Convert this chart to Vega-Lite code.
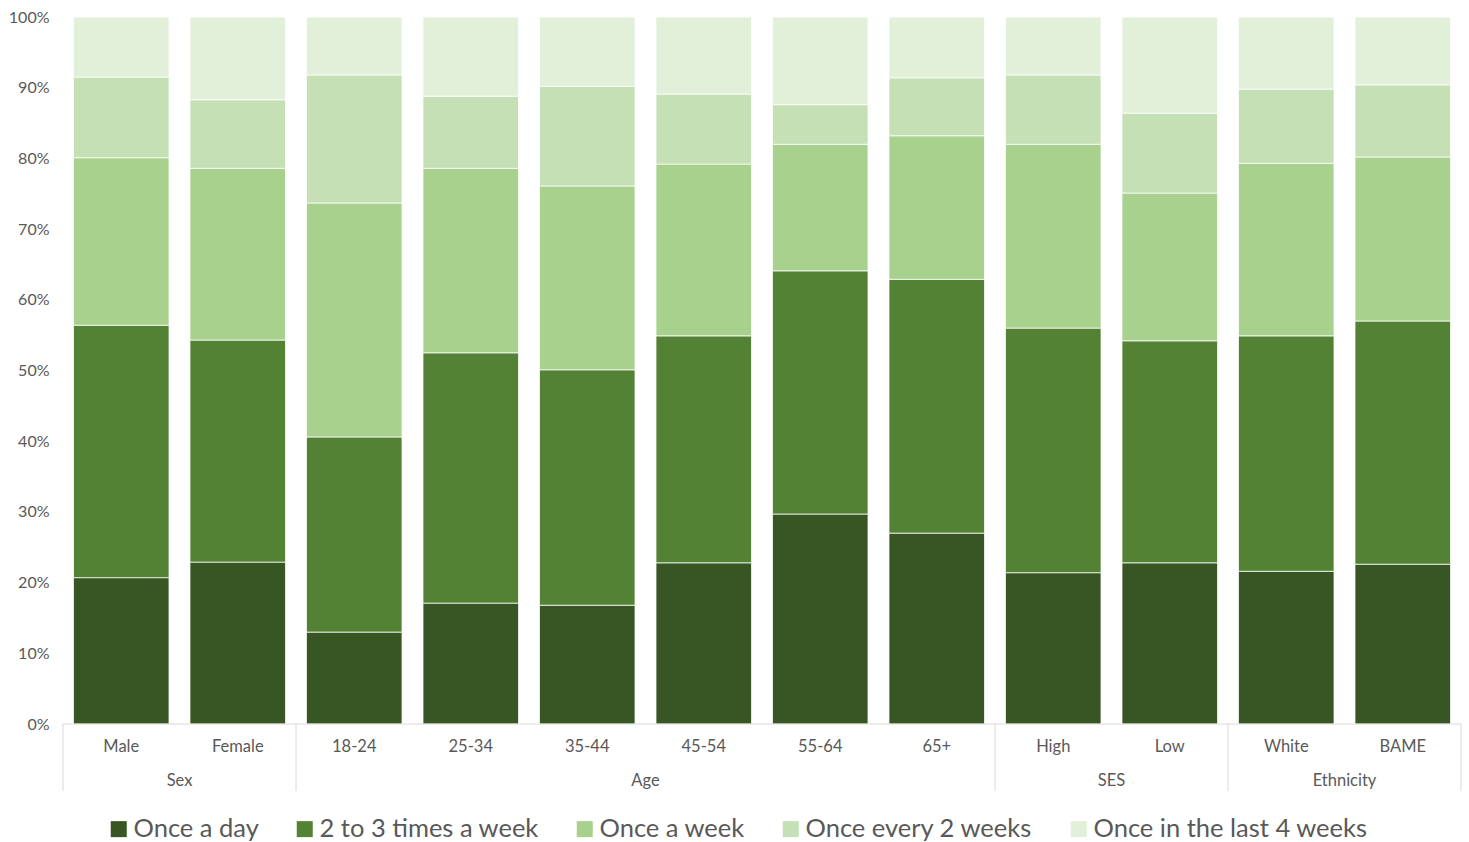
{
  "$schema": "https://vega.github.io/schema/vega-lite/v6.json",
  "padding": {"left": 8, "top": 9, "right": 7, "bottom": 0},
  "background": "white",
  "bounds": "flush",
  "config": {
    "font": "Lato",
    "view": {"stroke": null}
  },
  "datasets": {
    "bars": [
      {"group": "Sex", "category": "Male", "frequency": "Once a day", "percent": 20.7},
      {"group": "Sex", "category": "Male", "frequency": "2 to 3 times a week", "percent": 35.7},
      {"group": "Sex", "category": "Male", "frequency": "Once a week", "percent": 23.7},
      {"group": "Sex", "category": "Male", "frequency": "Once every 2 weeks", "percent": 11.4},
      {"group": "Sex", "category": "Male", "frequency": "Once in the last 4 weeks", "percent": 8.5},
      {"group": "Sex", "category": "Female", "frequency": "Once a day", "percent": 22.9},
      {"group": "Sex", "category": "Female", "frequency": "2 to 3 times a week", "percent": 31.4},
      {"group": "Sex", "category": "Female", "frequency": "Once a week", "percent": 24.3},
      {"group": "Sex", "category": "Female", "frequency": "Once every 2 weeks", "percent": 9.7},
      {"group": "Sex", "category": "Female", "frequency": "Once in the last 4 weeks", "percent": 11.7},
      {"group": "Age", "category": "18-24", "frequency": "Once a day", "percent": 13.0},
      {"group": "Age", "category": "18-24", "frequency": "2 to 3 times a week", "percent": 27.6},
      {"group": "Age", "category": "18-24", "frequency": "Once a week", "percent": 33.1},
      {"group": "Age", "category": "18-24", "frequency": "Once every 2 weeks", "percent": 18.1},
      {"group": "Age", "category": "18-24", "frequency": "Once in the last 4 weeks", "percent": 8.2},
      {"group": "Age", "category": "25-34", "frequency": "Once a day", "percent": 17.1},
      {"group": "Age", "category": "25-34", "frequency": "2 to 3 times a week", "percent": 35.4},
      {"group": "Age", "category": "25-34", "frequency": "Once a week", "percent": 26.1},
      {"group": "Age", "category": "25-34", "frequency": "Once every 2 weeks", "percent": 10.2},
      {"group": "Age", "category": "25-34", "frequency": "Once in the last 4 weeks", "percent": 11.2},
      {"group": "Age", "category": "35-44", "frequency": "Once a day", "percent": 16.8},
      {"group": "Age", "category": "35-44", "frequency": "2 to 3 times a week", "percent": 33.3},
      {"group": "Age", "category": "35-44", "frequency": "Once a week", "percent": 26.0},
      {"group": "Age", "category": "35-44", "frequency": "Once every 2 weeks", "percent": 14.1},
      {"group": "Age", "category": "35-44", "frequency": "Once in the last 4 weeks", "percent": 9.8},
      {"group": "Age", "category": "45-54", "frequency": "Once a day", "percent": 22.8},
      {"group": "Age", "category": "45-54", "frequency": "2 to 3 times a week", "percent": 32.1},
      {"group": "Age", "category": "45-54", "frequency": "Once a week", "percent": 24.3},
      {"group": "Age", "category": "45-54", "frequency": "Once every 2 weeks", "percent": 9.9},
      {"group": "Age", "category": "45-54", "frequency": "Once in the last 4 weeks", "percent": 10.9},
      {"group": "Age", "category": "55-64", "frequency": "Once a day", "percent": 29.7},
      {"group": "Age", "category": "55-64", "frequency": "2 to 3 times a week", "percent": 34.4},
      {"group": "Age", "category": "55-64", "frequency": "Once a week", "percent": 17.9},
      {"group": "Age", "category": "55-64", "frequency": "Once every 2 weeks", "percent": 5.6},
      {"group": "Age", "category": "55-64", "frequency": "Once in the last 4 weeks", "percent": 12.4},
      {"group": "Age", "category": "65+", "frequency": "Once a day", "percent": 27.0},
      {"group": "Age", "category": "65+", "frequency": "2 to 3 times a week", "percent": 35.9},
      {"group": "Age", "category": "65+", "frequency": "Once a week", "percent": 20.3},
      {"group": "Age", "category": "65+", "frequency": "Once every 2 weeks", "percent": 8.2},
      {"group": "Age", "category": "65+", "frequency": "Once in the last 4 weeks", "percent": 8.6},
      {"group": "SES", "category": "High", "frequency": "Once a day", "percent": 21.4},
      {"group": "SES", "category": "High", "frequency": "2 to 3 times a week", "percent": 34.6},
      {"group": "SES", "category": "High", "frequency": "Once a week", "percent": 26.0},
      {"group": "SES", "category": "High", "frequency": "Once every 2 weeks", "percent": 9.8},
      {"group": "SES", "category": "High", "frequency": "Once in the last 4 weeks", "percent": 8.2},
      {"group": "SES", "category": "Low", "frequency": "Once a day", "percent": 22.8},
      {"group": "SES", "category": "Low", "frequency": "2 to 3 times a week", "percent": 31.4},
      {"group": "SES", "category": "Low", "frequency": "Once a week", "percent": 20.9},
      {"group": "SES", "category": "Low", "frequency": "Once every 2 weeks", "percent": 11.3},
      {"group": "SES", "category": "Low", "frequency": "Once in the last 4 weeks", "percent": 13.6},
      {"group": "Ethnicity", "category": "White", "frequency": "Once a day", "percent": 21.6},
      {"group": "Ethnicity", "category": "White", "frequency": "2 to 3 times a week", "percent": 33.3},
      {"group": "Ethnicity", "category": "White", "frequency": "Once a week", "percent": 24.4},
      {"group": "Ethnicity", "category": "White", "frequency": "Once every 2 weeks", "percent": 10.5},
      {"group": "Ethnicity", "category": "White", "frequency": "Once in the last 4 weeks", "percent": 10.2},
      {"group": "Ethnicity", "category": "BAME", "frequency": "Once a day", "percent": 22.6},
      {"group": "Ethnicity", "category": "BAME", "frequency": "2 to 3 times a week", "percent": 34.4},
      {"group": "Ethnicity", "category": "BAME", "frequency": "Once a week", "percent": 23.2},
      {"group": "Ethnicity", "category": "BAME", "frequency": "Once every 2 weeks", "percent": 10.2},
      {"group": "Ethnicity", "category": "BAME", "frequency": "Once in the last 4 weeks", "percent": 9.6}
    ],
    "frequencies": [
      {"frequency": "Once a day", "rank": 1},
      {"frequency": "2 to 3 times a week", "rank": 2},
      {"frequency": "Once a week", "rank": 3},
      {"frequency": "Once every 2 weeks", "rank": 4},
      {"frequency": "Once in the last 4 weeks", "rank": 5}
    ],
    "categoryLabels": [
      {"category": "Male", "level": "category", "text": "Male"},
      {"category": "Female", "level": "category", "text": "Female"},
      {"category": "18-24", "level": "category", "text": "18-24"},
      {"category": "25-34", "level": "category", "text": "25-34"},
      {"category": "35-44", "level": "category", "text": "35-44"},
      {"category": "45-54", "level": "category", "text": "45-54"},
      {"category": "55-64", "level": "category", "text": "55-64"},
      {"category": "65+", "level": "category", "text": "65+"},
      {"category": "High", "level": "category", "text": "High"},
      {"category": "Low", "level": "category", "text": "Low"},
      {"category": "White", "level": "category", "text": "White"},
      {"category": "BAME", "level": "category", "text": "BAME"}
    ],
    "groupLabels": [
      {"category": "Male", "level": "group", "text": "Sex"},
      {"category": "35-44", "level": "group", "text": "Age"},
      {"category": "High", "level": "group", "text": "SES"},
      {"category": "White", "level": "group", "text": "Ethnicity"}
    ],
    "groupEnds": [
      {"category": "Female"},
      {"category": "65+"},
      {"category": "Low"},
      {"category": "BAME"}
    ],
    "groupStart": [
      {"category": "Male"}
    ],
    "baseline": [
      {"share": 0}
    ]
  },
  "vconcat": [
    {
      "width": 1398,
      "height": 707,
      "layer": [
        {
          "data": {"name": "bars"},
          "transform": [
            {
              "lookup": "frequency",
              "from": {"data": {"name": "frequencies"}, "key": "frequency", "fields": ["rank"]}
            }
          ],
          "mark": {"type": "bar", "stroke": "white", "strokeWidth": 0.75},
          "encoding": {
            "x": {
              "field": "category",
              "type": "nominal",
              "scale": {
                "domain": ["Male", "Female", "18-24", "25-34", "35-44", "45-54", "55-64", "65+", "High", "Low", "White", "BAME"],
                "paddingInner": 0.18,
                "paddingOuter": 0.09
              },
              "axis": null
            },
            "y": {
              "field": "percent",
              "type": "quantitative",
              "stack": "normalize",
              "scale": {"domain": [0, 1]},
              "axis": {
                "title": null,
                "values": [0, 0.1, 0.2, 0.3, 0.4, 0.5, 0.6, 0.7, 0.8, 0.9, 1],
                "format": ".0%",
                "grid": false,
                "domain": false,
                "ticks": false,
                "labelFontSize": 16,
                "labelColor": "#595959",
                "labelPadding": 14
              }
            },
            "order": {"field": "rank", "type": "quantitative", "sort": "ascending"},
            "color": {
              "field": "frequency",
              "type": "nominal",
              "scale": {
                "domain": ["Once a day", "2 to 3 times a week", "Once a week", "Once every 2 weeks", "Once in the last 4 weeks"],
                "range": ["#375623", "#548235", "#A9D18E", "#C5E0B4", "#E2F0D9"]
              },
              "legend": {
                "title": null,
                "orient": "none",
                "direction": "horizontal",
                "legendX": 43,
                "legendY": 799,
                "symbolType": "square",
                "symbolSize": 256,
                "symbolStrokeWidth": 0,
                "symbolOpacity": 1,
                "labelFontSize": 25.5,
                "labelColor": "#595959",
                "labelOffset": 2,
                "columnPadding": 33,
                "labelLimit": 400
              }
            }
          }
        },
        {
          "data": {"name": "baseline"},
          "mark": {"type": "rule", "color": "#D9D9D9", "strokeWidth": 1},
          "encoding": {
            "y": {"field": "share", "type": "quantitative"}
          }
        }
      ]
    },
    {
      "width": 1398,
      "height": 67,
      "layer": [
        {
          "data": {"name": "groupEnds"},
          "mark": {"type": "rule", "color": "#D9D9D9", "strokeWidth": 1},
          "encoding": {
            "x": {"field": "category", "type": "nominal", "bandPosition": 1.11, "axis": null}
          }
        },
        {
          "data": {"name": "groupStart"},
          "mark": {"type": "rule", "color": "#D9D9D9", "strokeWidth": 1},
          "encoding": {
            "x": {"field": "category", "type": "nominal", "bandPosition": -0.11, "axis": null}
          }
        },
        {
          "data": {"name": "categoryLabels"},
          "mark": {"type": "text", "fontSize": 16.5, "color": "#595959", "dy": 6},
          "encoding": {
            "x": {"field": "category", "type": "nominal", "axis": null},
            "y": {"field": "level", "type": "nominal", "scale": {"domain": ["category", "group"], "paddingInner": 0, "paddingOuter": 0}, "axis": null},
            "text": {"field": "text"}
          }
        },
        {
          "data": {"name": "groupLabels"},
          "mark": {"type": "text", "fontSize": 16.5, "color": "#595959", "dy": 7},
          "encoding": {
            "x": {"field": "category", "type": "nominal", "bandPosition": 1.11, "axis": null},
            "y": {"field": "level", "type": "nominal", "axis": null},
            "text": {"field": "text"}
          }
        }
      ]
    }
  ],
  "spacing": 0,
  "resolve": {"scale": {"x": "shared"}}
}
